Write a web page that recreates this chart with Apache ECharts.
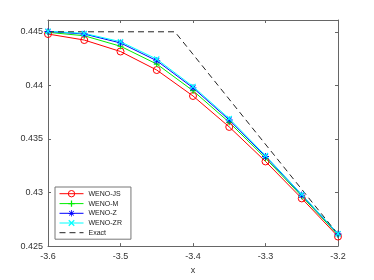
<!DOCTYPE html>
<html><head><meta charset="utf-8">
<script src="https://cdn.jsdelivr.net/npm/echarts@6/dist/echarts.min.js"></script>
<style>html,body{margin:0;padding:0;background:#fff}#c{width:374px;height:280px}</style>
</head><body><div id="c"></div>
<script>
var xs = [-3.6, -3.55, -3.5, -3.45, -3.4, -3.35, -3.3, -3.25, -3.2];
var wenoJS = [0.44479, 0.44423, 0.44316, 0.44143, 0.43901, 0.43612, 0.43290, 0.42945, 0.42589];
var wenoM  = [0.44495, 0.44463, 0.44365, 0.44199, 0.43950, 0.43655, 0.43320, 0.42965, 0.42605];
var wenoZ  = [0.44503, 0.44479, 0.44396, 0.44230, 0.43977, 0.43677, 0.43336, 0.42976, 0.42613];
var wenoZR = [0.44505, 0.44485, 0.44408, 0.44245, 0.43990, 0.43690, 0.43345, 0.42982, 0.42616];
var exactX = [-3.6, -3.425, -3.2];
var exactY = [0.445, 0.445, 0.4261];
var xTicks = [-3.6, -3.5, -3.4, -3.3, -3.2];
var yTicks = [0.425, 0.43, 0.435, 0.44, 0.445];

function pairs(a, b) { return a.map(function (v, i) { return [v, b[i]]; }); }
var plusPath = 'path://M4,0H6V4H10V6H6V10H4V6H0V4H4Z';
var xPath = 'path://M0,1.4L1.4,0L5,3.6L8.6,0L10,1.4L6.4,5L10,8.6L8.6,10L5,6.4L1.4,10L0,8.6L3.6,5Z';
var starPath = 'path://M4.4,0H5.6V4.4H10V5.6H5.6V10H4.4V5.6H0V4.4H4.4Z M1,1.9L1.9,1L5,4.1L8.1,1L9,1.9L5.9,5L9,8.1L8.1,9L5,5.9L1.9,9L1,8.1L4.1,5Z';

var frame = '#666';
var txt = '#333';
var font = 'Liberation Sans, Arial, sans-serif';
function onTick(v, arr) { return arr.some(function (t) { return Math.abs(t - v) < 1e-7; }); }

var chart = echarts.init(document.getElementById('c'), null, {renderer: 'canvas'});
chart.setOption({
  animation: false,
  backgroundColor: '#fff',
  grid: {left: 48, right: 36, top: 20, bottom: 31, containLabel: false},
  xAxis: [{
    type: 'value', min: -3.6, max: -3.2, interval: 0.1,
    name: 'x', nameLocation: 'middle', nameGap: 18,
    nameTextStyle: {color: txt, fontSize: 9, fontFamily: font},
    axisLine: {show: true, lineStyle: {color: frame, width: 1}},
    axisTick: {show: true, inside: true, length: 3, lineStyle: {color: frame}},
    axisLabel: {color: txt, fontSize: 9, fontFamily: font, margin: 6,
      formatter: function (v) { return onTick(v, xTicks) ? (+v.toFixed(1)).toString() : ''; }},
    splitLine: {show: false}
  }, {
    type: 'value', position: 'top', min: -3.6, max: -3.2, interval: 0.1,
    axisLine: {show: true, lineStyle: {color: frame, width: 1}},
    axisTick: {show: true, inside: true, length: 3, lineStyle: {color: frame}},
    axisLabel: {show: false}, splitLine: {show: false}
  }],
  yAxis: [{
    type: 'value', min: 0.425, max: 0.4461, interval: 0.005,
    axisLine: {show: true, lineStyle: {color: frame, width: 1}},
    axisTick: {show: true, inside: true, length: 3, lineStyle: {color: frame}},
    axisLabel: {color: txt, fontSize: 9, fontFamily: font, margin: 5,
      formatter: function (v) { return onTick(v, yTicks) ? (+v.toFixed(3)).toString() : ''; }},
    splitLine: {show: false}
  }, {
    type: 'value', position: 'right', min: 0.425, max: 0.4461, interval: 0.005,
    axisLine: {show: true, lineStyle: {color: frame, width: 1}},
    axisTick: {show: true, inside: true, length: 3, lineStyle: {color: frame}},
    axisLabel: {show: false}, splitLine: {show: false}
  }],
  legend: {
    orient: 'vertical', left: 55, top: 187,
    padding: [3, 9, 3, 4], itemGap: 2.7, itemWidth: 24, itemHeight: 8,
    backgroundColor: '#fff', borderColor: '#777', borderWidth: 1,
    lineStyle: {width: 1},
    itemStyle: {borderWidth: 1},
    textStyle: {fontSize: 7, fontFamily: font, color: '#222'},
    data: ['WENO-JS', 'WENO-M', 'WENO-Z', 'WENO-ZR',
      {name: 'Exact', itemStyle: {color: 'rgba(0,0,0,0)', borderWidth: 0, opacity: 0}}]
  },
  series: [{
    name: 'WENO-JS', type: 'line', data: pairs(xs, wenoJS),
    color: '#ff0000', symbol: 'circle', symbolSize: 7, showAllSymbol: true,
    lineStyle: {width: 1, color: '#ff0000'},
    itemStyle: {color: 'rgba(255,255,255,0)', borderColor: '#ff0000', borderWidth: 1}
  }, {
    name: 'WENO-M', type: 'line', data: pairs(xs, wenoM),
    color: '#00ee00', symbol: plusPath, symbolSize: 6,
    lineStyle: {width: 1, color: '#00ee00'},
    itemStyle: {color: '#00ee00'}
  }, {
    name: 'WENO-Z', type: 'line', data: pairs(xs, wenoZ),
    color: '#0000ff', symbol: starPath, symbolSize: 7,
    lineStyle: {width: 1, color: '#0000ff'},
    itemStyle: {color: '#0000ff'}
  }, {
    name: 'WENO-ZR', type: 'line', data: pairs(xs, wenoZR),
    color: '#00ffff', symbol: xPath, symbolSize: 6,
    lineStyle: {width: 1, color: '#00ffff'},
    itemStyle: {color: '#00ffff'}
  }, {
    name: 'Exact', type: 'line', data: pairs(exactX, exactY),
    color: '#222', symbol: 'none',
    lineStyle: {width: 1, color: '#222', type: [6, 4]}
  }]
});
</script></body></html>
